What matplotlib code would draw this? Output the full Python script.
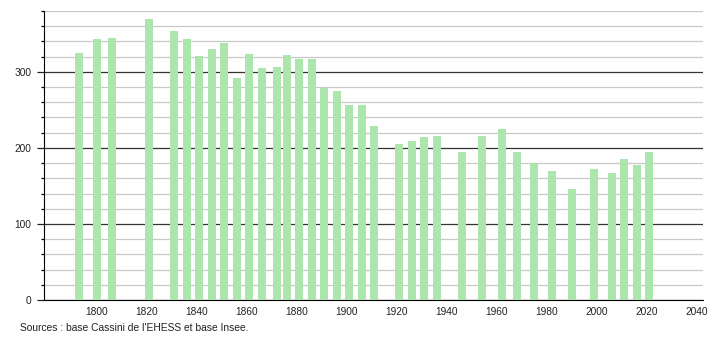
import numpy as np
import matplotlib.pyplot as plt
from matplotlib.ticker import MultipleLocator

years = [1793, 1800, 1806, 1821, 1831, 1836, 1841, 1846, 1851, 1856,
         1861, 1866, 1872, 1876, 1881, 1886, 1891, 1896, 1901, 1906,
         1911, 1921, 1926, 1931, 1936, 1946, 1954, 1962, 1968, 1975,
         1982, 1990, 1999, 2006, 2011, 2016, 2021]
population = [325, 343, 345, 369, 354, 343, 321, 330, 338, 292,
              323, 305, 306, 322, 317, 317, 279, 275, 257, 257,
              229, 205, 209, 214, 216, 195, 216, 225, 195, 180,
              170, 146, 172, 167, 185, 177, 194]
x_ticks = list(range(1800, 2041, 20))
source = "Sources : base Cassini de l'EHESS et base Insee."

plt.rcParams['font.family'] = ['Liberation Sans', 'DejaVu Sans']

fig = plt.figure(figsize=(7.1, 3.4), dpi=100)
ax = fig.add_axes([44 / 710, 1 - 300 / 340, 659 / 710, 289 / 340])

ax.bar(years, population, width=3.2, color='#ade6ad', zorder=3)

ax.set_xlim(1779, 2042.6)
ax.set_ylim(0, 380)

ax.yaxis.set_major_locator(MultipleLocator(100))
ax.yaxis.set_minor_locator(MultipleLocator(20))
ax.set_xticks(x_ticks)

ax.grid(axis='y', which='minor', color='#c8c8c8', linewidth=0.9, zorder=1)
ax.grid(axis='y', which='major', color='#333333', linewidth=0.9, zorder=2)

for side in ['top', 'right']:
    ax.spines[side].set_visible(False)
ax.spines['left'].set_color('black')
ax.spines['bottom'].set_color('black')

ax.tick_params(axis='y', which='major', length=5, width=0.9, labelsize=7.3, pad=4, colors='#222222')
ax.tick_params(axis='y', which='minor', length=2.5, width=0.9)
ax.tick_params(axis='x', length=0, labelsize=7.3, pad=5, colors='#222222')

fig.text(20 / 710, 1 - 328 / 340, source, fontsize=7.4, color='#222222', va='center')

fig.savefig('out.png', dpi=100)
